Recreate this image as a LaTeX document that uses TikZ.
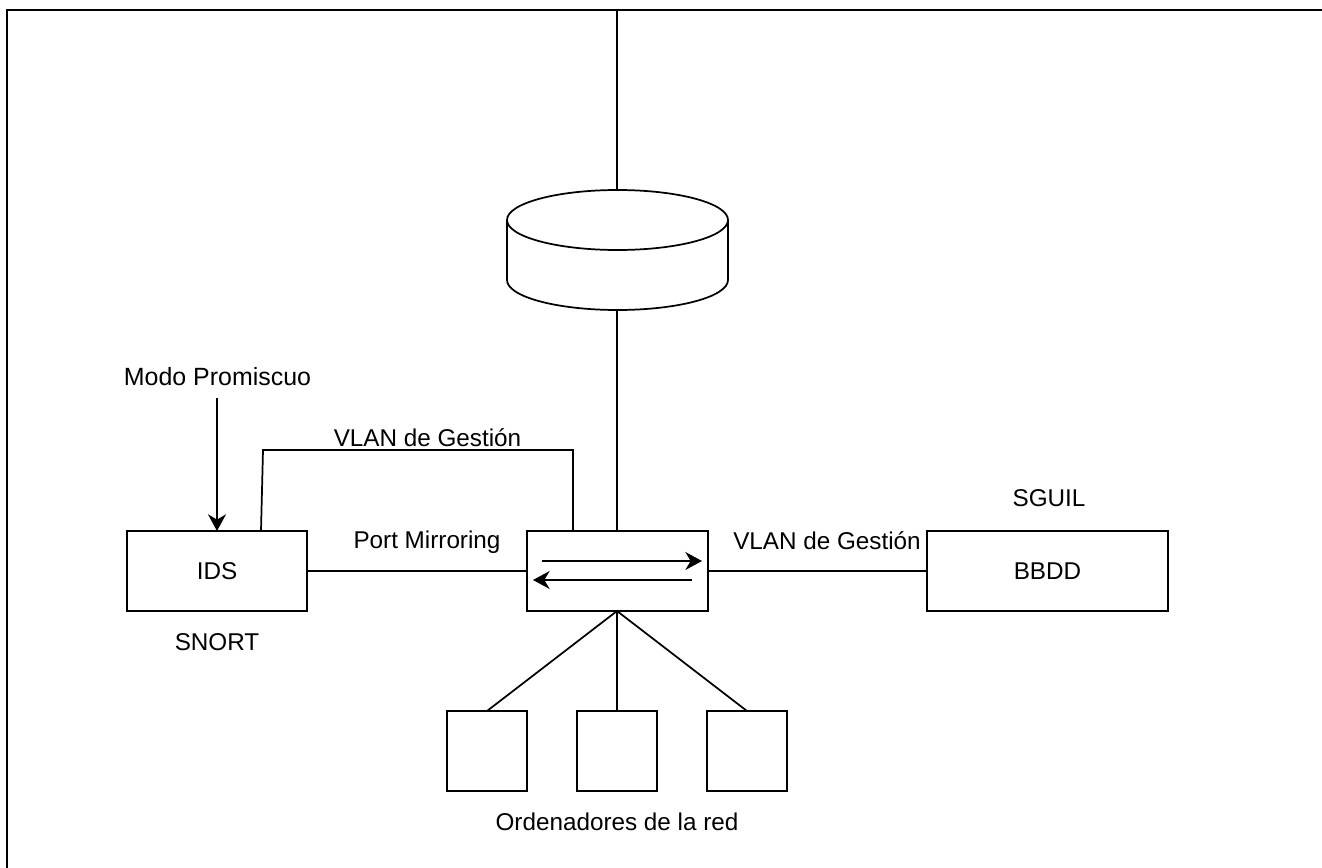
\documentclass[tikz,border=0pt]{standalone}
\usepackage{fontspec}
\setmainfont{Liberation Sans}
\usetikzlibrary{arrows.meta}
\tikzset{
  x=0.75pt,y=-0.75pt,
  conn/.style={draw=black,line width=1.3pt},
  box/.style={draw=black,line width=1.3pt,fill=white,inner sep=0pt,outer sep=0pt,font=\fontsize{18.2}{20}\selectfont},
  lbl/.style={inner sep=0pt,font=\fontsize{18.2}{20}\selectfont},
  tip/.style={-{Stealth[length=12.5pt,width=13.5pt,inset=4pt]}},
}
\begin{document}
\begin{tikzpicture}
\useasboundingbox (0,0) rectangle (1322,868);
\fill[white] (0,0) rectangle (1322,868);
% frame
\coordinate (fbl) at (7,868);
\coordinate (ftl) at (7,10);
\coordinate (ftr) at (1322,10);
\draw[line width=1.6pt] (fbl) -- (ftl) -- (ftr);
% cylinder
\node[minimum width=165.75pt,minimum height=90pt,inner sep=0pt,outer sep=0pt] (disk) at (617,250) {};
\draw[line width=1.3pt,fill=white] (507,220) arc[start angle=180,end angle=0,x radius=110.5,y radius=-30]
  -- (728,280) arc[start angle=0,end angle=-180,x radius=110.5,y radius=-30] -- cycle;
\draw[line width=1.3pt] (507,220) arc[start angle=180,end angle=360,x radius=110.5,y radius=-30];
% boxes
\node[box,minimum width=135pt,minimum height=60pt] (ids) at (217,571) {IDS};
\node[box,minimum width=135.75pt,minimum height=60pt] (sw) at (617.5,571) {};
\node[box,minimum width=180.75pt,minimum height=60pt] (bbdd) at (1047.5,571) {BBDD};
\node[box,minimum width=60pt,minimum height=60pt] (pc1) at (487,751) {};
\node[box,minimum width=60pt,minimum height=60pt] (pc2) at (617,751) {};
\node[box,minimum width=60pt,minimum height=60pt] (pc3) at (747,751) {};
% labels
\node[lbl,font=\fontsize{18.7}{20}\selectfont] (modo) at (217.5,377) {Modo Promiscuo};
\node[lbl] (vg1) at (427.5,438) {VLAN de Gestión};
\node[lbl] (pm) at (427,542) {Port Mirroring};
\node[lbl] (vg2) at (827,541) {VLAN de Gestión};
\node[lbl] (sguil) at (1049,498) {SGUIL};
\node[lbl] (snort) at (217,642) {SNORT};
\node[lbl] (ord) at (617,822) {Ordenadores de la red};
% connectors
\coordinate (top) at (617,10);
\coordinate (swt) at (disk.south |- sw.north);
\coordinate (swb) at (disk.south |- sw.south);
\draw[conn] (top) -- (disk.north);
\draw[conn] (disk.south) -- (swt);
\draw[conn] (ids.east) -- (sw.west);
\draw[conn] (sw.east) -- (bbdd.west);
\draw[conn] (swb) -- (pc1.north);
\draw[conn] (swb) -- (pc2.north);
\draw[conn] (swb) -- (pc3.north);
\coordinate (a1) at (261,531);
\coordinate (a2) at (263,450);
\coordinate (a3) at (573,450);
\coordinate (a4) at (573,531);
\draw[conn] (a1) -- (a2) -- (a3) -- (a4);
\coordinate (m0) at (217,398);
\draw[conn,tip] (m0) -- (ids.north);
\coordinate (r0) at (542,561);
\coordinate (r1) at (702,561);
\coordinate (l0) at (692,580);
\coordinate (l1) at (533,580);
\draw[conn,tip] (r0) -- (r1);
\draw[conn,tip] (l0) -- (l1);
\end{tikzpicture}
\end{document}
